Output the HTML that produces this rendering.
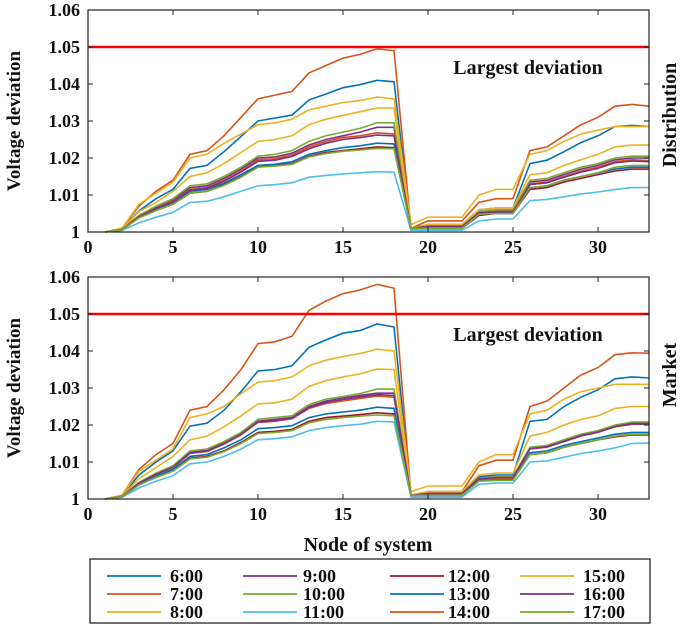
<!DOCTYPE html>
<html><head><meta charset="utf-8"><style>
body{margin:0;background:#fff;}
svg text{font-family:"Liberation Serif",serif;font-weight:bold;fill:#111;}
</style></head><body>
<svg id="chart" width="685" height="628" viewBox="0 0 685 628" xmlns="http://www.w3.org/2000/svg"></svg>
<script>
const times=["6:00","7:00","8:00","9:00","10:00","11:00","12:00","13:00","14:00","15:00","16:00","17:00"];
const colors=["#0072BD","#D95319","#EDB120","#7E2F8E","#77AC30","#4DBEEE","#A2142F","#0072BD","#D95319","#EDB120","#7E2F8E","#77AC30"];
const xTicks=[0,5,10,15,20,25,30];
const yTicks=[1,1.01,1.02,1.03,1.04,1.05,1.06];
const yTickLabels=["1","1.01","1.02","1.03","1.04","1.05","1.06"];
const limitValue=1.05;
// deviations in units of 0.001 above 1.0, nodes 1..33
const distSeries=[
[0,.8,5.7,9,11.5,17.2,18,21.7,25.8,30,30.8,31.6,35.7,37.3,39,39.8,41,40.6,1,2,2,2,6,6.5,6.5,18.5,19.4,21.7,24.2,26,28.5,28.8,28.5],
[0,1,7,11,14,21,22,26,31,36,37,38,43,45,47,48,49.5,49,1,3,3,3,8,9,9,22,23,26,29,31,34,34.5,34],
[0,1,7.5,10.5,13.5,20,21,24,26.5,29,29.5,30.5,33,34,35,35.5,36.5,36,2,4,4,4,10,11.5,11.5,21,22,24.5,26.5,27.5,28.5,28.5,28.5],
[0,.7,4.3,6.8,8.7,12,12.5,14.5,17,20,20.3,21.3,23.5,25,26,27,28.3,28.3,1,1.5,1.5,1.5,5.5,5.8,5.8,13.5,14,15.5,17,18,19.5,20,20],
[0,.7,4.5,7,9,12.5,13,15,17.5,20.5,21,22,24.5,26,27,28,29.5,29.5,1,1.5,1.5,1.5,5.5,6,6,14,14.5,16,17.5,18.5,20,20.5,20.5],
[0,.4,2.5,4,5.3,8,8.3,9.5,11,12.5,12.8,13.3,14.8,15.3,15.7,16,16.3,16.2,.5,.5,.5,.5,3,3.5,3.5,8.5,8.8,9.5,10.3,10.8,11.5,12,12],
[0,.6,3.8,5.8,7.5,10.5,11,12.8,15,17.8,18,18.5,20.5,21.5,22,22.5,23,22.8,1,1,1,1,4.5,5,5,11.5,12,13.5,14.5,15.5,16.5,17,17],
[0,.6,4,6,7.8,11,11.5,13.2,15.5,18,18.3,19,21,22,22.8,23.3,24,23.8,1,1,1,1,5,5.2,5.2,12,12.5,14,15,16,17,17.5,17.5],
[0,.7,4.2,6.5,8.3,11.5,12,14,16.5,19.5,19.8,20.8,23,24.5,25.5,26,26.8,26.5,1,1.5,1.5,1.5,5.3,5.5,5.5,13,13.5,15,16.5,17.5,19,19.5,19.3],
[0,.8,5.5,8,11,15,16,18.5,21.5,24.5,25,26,29,30.5,31.5,32.5,33.5,33.5,1,2,2,2,6,6.5,6.5,15.5,16,18,19.5,21,23,23.5,23.5],
[0,.7,4.1,6.4,8.1,11.3,11.8,13.7,16.2,19.1,19.4,20.4,22.5,24,25,25.5,26.2,26,1,1.5,1.5,1.5,5.2,5.4,5.4,12.8,13.3,14.8,16.2,17.2,18.7,19.2,19],
[0,.6,3.8,5.8,7.5,10.5,11,12.6,14.8,17.5,17.8,18.3,20.3,21.2,21.8,22.2,22.6,22.5,1,1,1,1,4.8,5,5,12,12.5,14,15,16,17.5,18,18]
];
const marketSeries=[
[0,.9,6.5,10,13,19.7,20.5,24,29,34.6,35,36,41,43,44.8,45.5,47.3,46.5,1,1.5,1.5,1.5,6,6.5,6.5,21,21.5,25,27.5,29.5,32.5,33,32.7],
[0,1,8,12,15,24,25,29.5,35,42,42.5,44,51,53.5,55.5,56.5,58,57,1,2,2,2,9,10.5,10.5,25,26.5,30,33.5,35.5,39,39.5,39.4],
[0,1,7.5,10.5,13.5,22,23,25,28.5,31.6,32,33,36,37.5,38.5,39.3,40.5,40,2,3.5,3.5,3.5,10,12,12,23,24,27,29,30,31,31,31],
[0,.7,4.4,6.8,8.8,12.7,13.2,15.2,17.7,21,21.5,22,25,26.5,27.3,28,28.6,28.6,1,1.5,1.5,1.5,5.5,6,6,13.8,14.3,15.8,17.3,18.3,19.8,20.5,20.5],
[0,.7,4.5,7,9,13,13.5,15.5,18,21.5,22,22.5,25.5,27,27.7,28.5,29.7,29.7,1,1.5,1.5,1.5,5.5,6,6,14,14.5,16,17.5,18.5,20,20.8,20.8],
[0,.5,3,4.8,6.3,9.5,10,11.5,13.5,16,16.3,16.8,18.5,19.3,19.8,20.2,21,20.8,.5,.5,.5,.5,4,4.3,4.3,10,10.3,11.3,12.3,13,13.8,15,15.1],
[0,.6,3.8,5.9,7.6,11,11.5,13,15.3,18,18.3,18.8,21,22,22.4,22.8,23.3,23,1,1,1,1,5,5.2,5.2,12,12.5,14,15,16,16.8,17.3,17.3],
[0,.6,4,6.2,8,11.5,12,13.8,16,19,19.3,19.8,22,23,23.5,24,24.8,24.5,1,1,1,1,5,5.3,5.3,12.5,13,14.5,15.5,16.5,17.5,18,18],
[0,.7,4.3,6.6,8.5,12.3,12.8,14.8,17.3,20.7,21,21.7,24.5,25.8,26.5,27.2,27.8,27.5,1,1.5,1.5,1.5,5.3,5.6,5.6,13.5,14,15.5,17,18,19.5,20.2,20.2],
[0,.8,5.5,8.5,11.5,16,17,19.5,22.5,25.7,26,27,30.5,32,33,33.8,35.1,35,1,2,2,2,6.5,7,7,17,18,20,21.5,22.5,24.5,25,25],
[0,.7,4.3,6.7,8.6,12.5,13,15,17.5,20.8,21.2,21.8,24.7,26.1,26.9,27.6,28.2,28,1,1.5,1.5,1.5,5.4,5.8,5.8,13.6,14.1,15.6,17.1,18.1,19.6,20.3,20.3],
[0,.6,3.8,5.8,7.5,10.8,11.3,12.8,15,17.7,18,18.5,20.6,21.5,22,22.4,22.7,22.5,1,1,1,1,4.8,5,5,12,12.5,14,15,16,17,17.5,17.5]
];
const nodes=Array.from({length:33},(_,i)=>i+1);

const NS="http://www.w3.org/2000/svg";
const svg=document.getElementById('chart');
function el(tag,attrs,parent){const e=document.createElementNS(NS,tag);for(const k in attrs)e.setAttribute(k,attrs[k]);(parent||svg).appendChild(e);return e;}
const X0=88,X1=649,XMAX=33;
const xs=v=>X0+(X1-X0)*v/XMAX;

function panel(series,top,bottom,name,sideLabel,sideY){
  const g=el('g',{});
  
  
  const ys=v=>bottom-(bottom-top)*(v-1)/0.06;
  series.forEach((s,si)=>{
    let d='';
    nodes.forEach((n,i)=>{
      const v=1+s[i]/1000;
      d+=(i===0?'M':'L')+xs(n).toFixed(1)+','+ys(v).toFixed(1);
    });
    const p=el('path',{d:d,fill:'none',stroke:colors[si],'stroke-width':1.6},g);
    
    
  });
  const lim=el('line',{x1:X0,x2:X1,y1:ys(limitValue),y2:ys(limitValue),stroke:'#f00','stroke-width':2.5},g);
  
  
  const box=el('rect',{x:X0,y:top,width:X1-X0,height:bottom-top,fill:'none',stroke:'#222','stroke-width':1.2},g);
  
  
  xTicks.forEach(t=>{
    el('line',{x1:xs(t),x2:xs(t),y1:bottom,y2:bottom-5,stroke:'#222'},g);
    el('line',{x1:xs(t),x2:xs(t),y1:top,y2:top+5,stroke:'#222'},g);
    const tx=el('text',{x:xs(t),y:bottom+21,'text-anchor':'middle','font-size':18},g);
    tx.textContent=t;
    
    
  });
  yTicks.forEach((t,i)=>{
    el('line',{x1:X0,x2:X0+5,y1:ys(t),y2:ys(t),stroke:'#222'},g);
    el('line',{x1:X1,x2:X1-5,y1:ys(t),y2:ys(t),stroke:'#222'},g);
    const tx=el('text',{x:X0-8,y:ys(t)+6,'text-anchor':'end','font-size':18},g);
    tx.textContent=yTickLabels[i];
    
    
  });
  const yl=el('text',{x:0,y:0,'text-anchor':'middle','font-size':19,transform:`translate(20,${(top+bottom)/2}) rotate(-90)`},g);
  yl.textContent='Voltage deviation';
  
  
  const ld=el('text',{x:528,y:ys(limitValue)+27,'text-anchor':'middle','font-size':20},g);
  ld.textContent='Largest deviation';
  
  
  const sl=el('text',{x:0,y:0,'text-anchor':'middle','font-size':20,transform:`translate(676,${sideY}) rotate(-90)`},g);
  sl.textContent=sideLabel;
  
  
}
panel(distSeries,10,232,'distribution','Distribution',115);
panel(marketSeries,277,499,'market','Market',375);

const xt=el('text',{x:368,y:551,'text-anchor':'middle','font-size':20});
xt.textContent='Node of system';



const lg=el('g',{});


el('rect',{x:90,y:559,width:560,height:64,fill:'#fff',stroke:'#222','stroke-width':1.3},lg);
const colLine=[107,243,390,520],colText=[170,303,448,583],rowY=[576,594,612];
times.forEach((t,i)=>{
  const c=Math.floor(i/3),r=i%3;
  const en=el('g',{},lg);
  
  
  el('line',{x1:colLine[c],x2:colLine[c]+54,y1:rowY[r],y2:rowY[r],stroke:colors[i],'stroke-width':1.8},en);
  const tx=el('text',{x:colText[c],y:rowY[r]+6,'font-size':18},en);
  tx.textContent=t;
});
</script>
</body></html>
